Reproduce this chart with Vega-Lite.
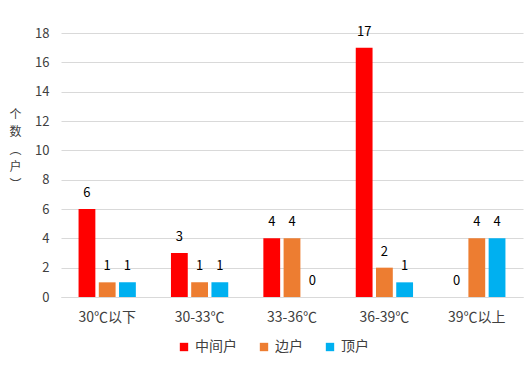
{
  "$schema": "https://vega.github.io/schema/vega-lite/v6.json",
  "autosize": "none",
  "width": 462,
  "height": 264,
  "padding": {"left": 61, "top": 33, "right": 7, "bottom": 68},
  "background": "white",
  "config": {
    "view": {"stroke": null},
    "font": "Noto Sans CJK SC"
  },
  "data": {
    "values": [
      {"cat": "30℃以下", "series": "中间户", "v": 6},
      {"cat": "30℃以下", "series": "边户", "v": 1},
      {"cat": "30℃以下", "series": "顶户", "v": 1},
      {"cat": "30-33℃", "series": "中间户", "v": 3},
      {"cat": "30-33℃", "series": "边户", "v": 1},
      {"cat": "30-33℃", "series": "顶户", "v": 1},
      {"cat": "33-36℃", "series": "中间户", "v": 4},
      {"cat": "33-36℃", "series": "边户", "v": 4},
      {"cat": "33-36℃", "series": "顶户", "v": 0},
      {"cat": "36-39℃", "series": "中间户", "v": 17},
      {"cat": "36-39℃", "series": "边户", "v": 2},
      {"cat": "36-39℃", "series": "顶户", "v": 1},
      {"cat": "39℃以上", "series": "中间户", "v": 0},
      {"cat": "39℃以上", "series": "边户", "v": 4},
      {"cat": "39℃以上", "series": "顶户", "v": 4}
    ]
  },
  "encoding": {
    "x": {
      "field": "cat", "type": "nominal", "sort": null,
      "scale": {"paddingInner": 0.38, "paddingOuter": 0.19},
      "axis": {
        "title": null, "labelAngle": 0, "ticks": false,
        "domainColor": "#d9d9d9", "labelFontSize": 14, "labelColor": "#404040",
        "labelPadding": 13, "labelFont": "Noto Sans CJK SC"
      }
    },
    "xOffset": {
      "field": "series", "type": "nominal", "sort": ["中间户", "边户", "顶户"],
      "scale": {"paddingInner": 0.17, "paddingOuter": 0}
    },
    "y": {
      "field": "v", "type": "quantitative",
      "scale": {"domain": [0, 18], "nice": false},
      "axis": {
        "values": [0, 2, 4, 6, 8, 10, 12, 14, 16, 18],
        "title": ["个", "数", "︵", "户", "︶"],
        "titleAngle": 0, "titleX": -46, "titleY": 76, "titleBaseline": "top",
        "titleAlign": "center", "titleLineHeight": 17.5, "titleFontSize": 12,
        "titleFontWeight": "normal", "titleColor": "#404040",
        "domain": false, "ticks": false, "labelPadding": 12,
        "labelFontSize": 13, "labelColor": "#404040",
        "gridColor": "#d9d9d9"
      }
    }
  },
  "layer": [
    {
      "mark": {"type": "bar"},
      "encoding": {
        "color": {
          "field": "series", "type": "nominal", "sort": ["中间户", "边户", "顶户"],
          "scale": {"domain": ["中间户", "边户", "顶户"], "range": ["#FF0000", "#ED7D31", "#00B0F0"]},
          "legend": {
            "title": null, "orient": "none", "direction": "horizontal",
            "legendX": 116, "legendY": 307, "symbolType": "square", "symbolSize": 70,
            "symbolStrokeWidth": 0, "labelFontSize": 14, "labelColor": "#404040",
            "columnPadding": 20, "labelOffset": 4, "padding": 0
          }
        }
      }
    },
    {
      "mark": {"type": "text", "baseline": "bottom", "dy": -9, "fontSize": 13, "color": "#000000"},
      "encoding": {"text": {"field": "v", "type": "quantitative"}}
    }
  ]
}
